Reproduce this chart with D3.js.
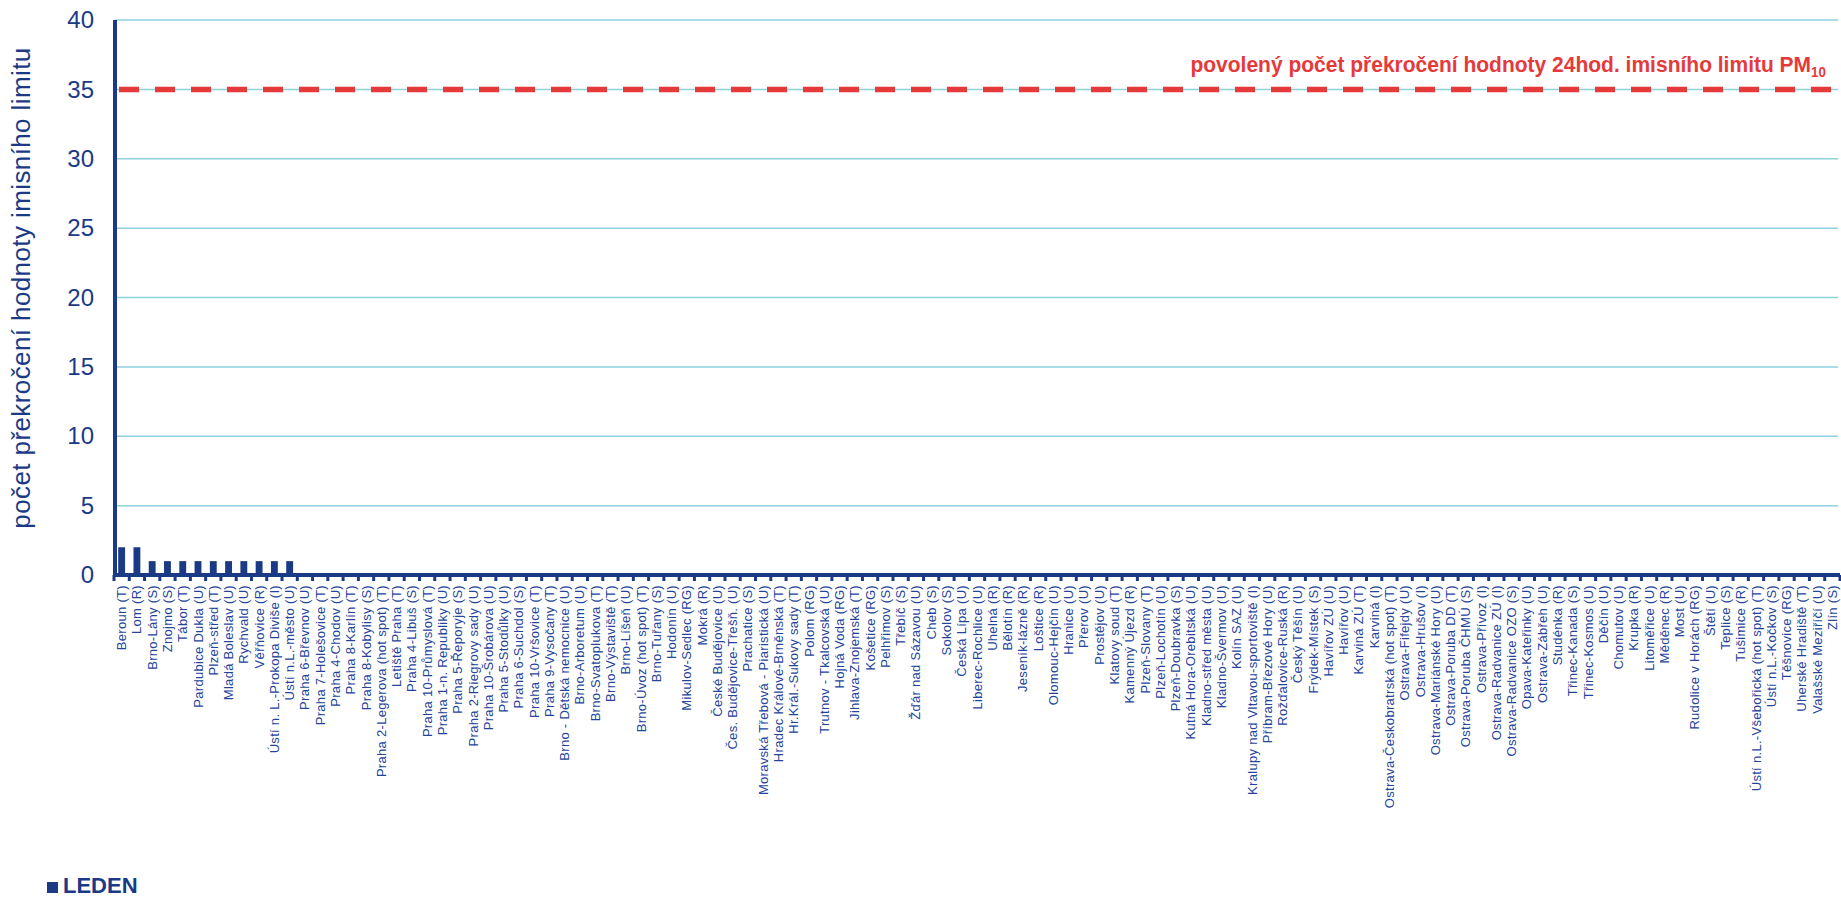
<!DOCTYPE html>
<html>
<head>
<meta charset="utf-8">
<script src="https://cdn.jsdelivr.net/npm/d3@7"></script>
<style>
  body { margin: 0; background: #fff; }
  svg { display: block; font-family: "Liberation Sans", Arial, sans-serif; }
</style>
</head>
<body>
<svg width="1841" height="899"></svg>
<script>
// stanice (pořadí jako v grafu)
const stations = [
  "Beroun (T)", "Lom (R)", "Brno-Lány (S)", "Znojmo (S)", "Tábor (T)",
  "Pardubice Dukla (U)", "Plzeň-střed (T)", "Mladá Boleslav (U)", "Rychvald (U)", "Věřňovice (R)",
  "Ústí n. L.-Prokopa Diviše (I)", "Ústí n.L.-město (U)", "Praha 6-Břevnov (U)", "Praha 7-Holešovice (T)", "Praha 4-Chodov (U)",
  "Praha 8-Karlín (T)", "Praha 8-Kobylisy (S)", "Praha 2-Legerova (hot spot) (T)", "Letiště Praha (T)", "Praha 4-Libuš (S)",
  "Praha 10-Průmyslová (T)", "Praha 1-n. Republiky (U)", "Praha 5-Řeporyje (S)", "Praha 2-Riegrovy sady (U)", "Praha 10-Šrobárova (U)",
  "Praha 5-Stodůlky (U)", "Praha 6-Suchdol (S)", "Praha 10-Vršovice (T)", "Praha 9-Vysočany (T)", "Brno - Dětská nemocnice (U)",
  "Brno-Arboretum (U)", "Brno-Svatoplukova (T)", "Brno-Výstaviště (T)", "Brno-Líšeň (U)", "Brno-Úvoz (hot spot) (T)",
  "Brno-Tuřany (S)", "Hodonín (U)", "Mikulov-Sedlec (RG)", "Mokrá (R)", "České Budějovice (U)",
  "Čes. Budějovice-Třešň. (U)", "Prachatice (S)", "Moravská Třebová - Piaristická (U)", "Hradec Králové-Brněnská (T)", "Hr.Král.-Sukovy sady (T)",
  "Polom (RG)", "Trutnov - Tkalcovská (U)", "Hojná Voda (RG)", "Jihlava-Znojemská (T)", "Košetice (RG)",
  "Pelhřimov (S)", "Třebíč (S)", "Žďár nad Sázavou (U)", "Cheb (S)", "Sokolov (S)",
  "Česká Lípa (U)", "Liberec-Rochlice (U)", "Uhelná (R)", "Bělotín (R)", "Jeseník-lázně (R)",
  "Loštice (R)", "Olomouc-Hejčín (U)", "Hranice (U)", "Přerov (U)", "Prostějov (U)",
  "Klatovy soud (T)", "Kamenný Újezd (R)", "Plzeň-Slovany (T)", "Plzeň-Lochotín (U)", "Plzeň-Doubravka (S)",
  "Kutná Hora-Orebitská (U)", "Kladno-střed města (U)", "Kladno-Švermov (U)", "Kolín SAZ (U)", "Kralupy nad Vltavou-sportoviště (I)",
  "Příbram-Březové Hory (U)", "Rožďalovice-Ruská (R)", "Český Těšín (U)", "Frýdek-Místek (S)", "Havířov ZÚ (U)",
  "Havířov (U)", "Karviná ZÚ (T)", "Karviná (I)", "Ostrava-Českobratrská (hot spot) (T)", "Ostrava-Fifejdy (U)",
  "Ostrava-Hrušov (I)", "Ostrava-Mariánské Hory (U)", "Ostrava-Poruba DD (T)", "Ostrava-Poruba ČHMÚ (S)", "Ostrava-Přívoz (I)",
  "Ostrava-Radvanice ZÚ (I)", "Ostrava-Radvanice OZO (S)", "Opava-Kateřinky (U)", "Ostrava-Zábřeh (U)", "Studénka (R)",
  "Třinec-Kanada (S)", "Třinec-Kosmos (U)", "Děčín (U)", "Chomutov (U)", "Krupka (R)",
  "Litoměřice (U)", "Měděnec (R)", "Most (U)", "Rudolice v Horách (RG)", "Štětí (U)",
  "Teplice (S)", "Tušimice (R)", "Ústí n.L.-Všebořická (hot spot) (T)", "Ústí n.L.-Kočkov (S)", "Těšnovice (RG)",
  "Uherské Hradiště (T)", "Valašské Meziříčí (U)", "Zlín (S)"
];

// počet překročení - leden
const exceedances = [
  2, 2, 1, 1, 1,
  1, 1, 1, 1, 1,
  1, 1, 0, 0, 0,
  0, 0, 0, 0, 0,
  0, 0, 0, 0, 0,
  0, 0, 0, 0, 0,
  0, 0, 0, 0, 0,
  0, 0, 0, 0, 0,
  0, 0, 0, 0, 0,
  0, 0, 0, 0, 0,
  0, 0, 0, 0, 0,
  0, 0, 0, 0, 0,
  0, 0, 0, 0, 0,
  0, 0, 0, 0, 0,
  0, 0, 0, 0, 0,
  0, 0, 0, 0, 0,
  0, 0, 0, 0, 0,
  0, 0, 0, 0, 0,
  0, 0, 0, 0, 0,
  0, 0, 0, 0, 0,
  0, 0, 0, 0, 0,
  0, 0, 0, 0, 0,
  0, 0, 0
];

const yTicks = [0, 5, 10, 15, 20, 25, 30, 35, 40];
const limitValue = 35;
const limitText = "povolený  počet  překročení  hodnoty  24hod.  imisního  limitu  PM";
const limitSub = "10";
const yTitle = "počet překročení hodnoty imisního limitu";
const seriesName = "LEDEN";

const navy = "#1b3a86";
const labelBlue = "#24449b";

let data = stations.map((s, i) => ({ station: s, value: exceedances[i] }));

let svg = d3.select("svg");

let plotLeft = 115, plotRight = 1840, plotTop = 20, plotBottom = 575;

let x = d3.scaleBand()
    .domain(stations)
    .range([plotLeft - 1, plotRight])
    .paddingInner(0.55)
    .paddingOuter(0.275);

let y = d3.scaleLinear()
    .domain([0, 40])
    .range([plotBottom, plotTop]);

/// grid lines ///
svg.append("g")
    .selectAll("line")
    .data(yTicks.filter(t => t > 0))
    .enter()
    .append("line")
    .attr("x1", plotLeft)
    .attr("x2", 1838)
    .attr("y1", d => y(d))
    .attr("y2", d => y(d))
    .attr("stroke", "#8dd2dc")
    .attr("stroke-width", 1.5);

/// limit line ///
svg.append("line")
    .attr("x1", plotLeft + 4)
    .attr("x2", 1838)
    .attr("y1", y(limitValue))
    .attr("y2", y(limitValue))
    .attr("stroke", "#e63a3a")
    .attr("stroke-width", 5.5)
    .attr("stroke-dasharray", "20 16");

let lt = svg.append("text")
    .attr("x", 1826)
    .attr("y", y(limitValue) - 17)
    .attr("text-anchor", "end")
    .attr("fill", "#e63a3a")
    .style("font-weight", "bold")
    .style("font-size", "22px")
    .attr("transform", "translate(1826,0) scale(0.955,1) translate(-1826,0)")
    .text(limitText);
lt.append("tspan")
    .attr("dy", 5)
    .style("font-size", "14px")
    .text(limitSub);

/// bars ///
svg.append("g")
    .selectAll("rect")
    .data(data)
    .enter()
    .append("rect")
    .attr("x", d => x(d.station))
    .attr("width", x.bandwidth())
    .attr("y", d => y(d.value))
    .attr("height", d => y(0) - y(d.value))
    .attr("fill", navy);

/// y axis ///
let yAxis = svg.append("g")
    .attr("transform", `translate(${plotLeft}, 0)`)
    .call(d3.axisLeft(y).tickValues(yTicks).tickSize(0).tickPadding(21));
yAxis.select(".domain").remove();
yAxis.selectAll("text")
    .attr("fill", navy)
    .style("font-size", "24px")
    .style("font-family", "'Liberation Sans', Arial, sans-serif");

svg.append("line")
    .attr("x1", plotLeft)
    .attr("x2", plotLeft)
    .attr("y1", y(40))
    .attr("y2", y(0) + 2)
    .attr("stroke", navy)
    .attr("stroke-width", 4);

/// x axis ///
let xAxis = svg.append("g")
    .attr("transform", `translate(0, ${plotBottom})`)
    .call(d3.axisBottom(x).tickSize(0));
xAxis.select(".domain").remove();
xAxis.selectAll("text")
    .attr("x", -10)
    .attr("y", 0)
    .attr("dy", "0.35em")
    .attr("transform", "rotate(-90)")
    .style("text-anchor", "end")
    .style("font-size", "13px")
    .style("letter-spacing", "0.3px")
    .style("font-family", "'Liberation Sans', Arial, sans-serif")
    .attr("fill", labelBlue);

// ticks mezi kategoriemi
let gap = (x.step() - x.bandwidth()) / 2;
let bounds = stations.map(s => x(s) - gap).concat([x(stations[stations.length - 1]) + x.bandwidth() + gap]);
svg.append("g")
    .selectAll("line")
    .data(bounds)
    .enter()
    .append("line")
    .attr("x1", d => d)
    .attr("x2", d => d)
    .attr("y1", plotBottom)
    .attr("y2", plotBottom + 6)
    .attr("stroke", navy)
    .attr("stroke-width", 3);

svg.append("line")
    .attr("x1", plotLeft - 2)
    .attr("x2", 1840)
    .attr("y1", plotBottom)
    .attr("y2", plotBottom)
    .attr("stroke", navy)
    .attr("stroke-width", 4);

/// y title ///
svg.append("text")
    .attr("transform", "translate(30, 288) rotate(-90)")
    .attr("text-anchor", "middle")
    .attr("fill", navy)
    .style("font-size", "26px")
    .style("letter-spacing", "0.4px")
    .text(yTitle);

/// legend ///
svg.append("rect")
    .attr("x", 47)
    .attr("y", 882)
    .attr("width", 11)
    .attr("height", 11)
    .attr("fill", navy);
svg.append("text")
    .attr("x", 63)
    .attr("y", 893)
    .attr("fill", navy)
    .style("font-weight", "bold")
    .style("font-size", "22px")
    .text(seriesName);
</script>
</body>
</html>
